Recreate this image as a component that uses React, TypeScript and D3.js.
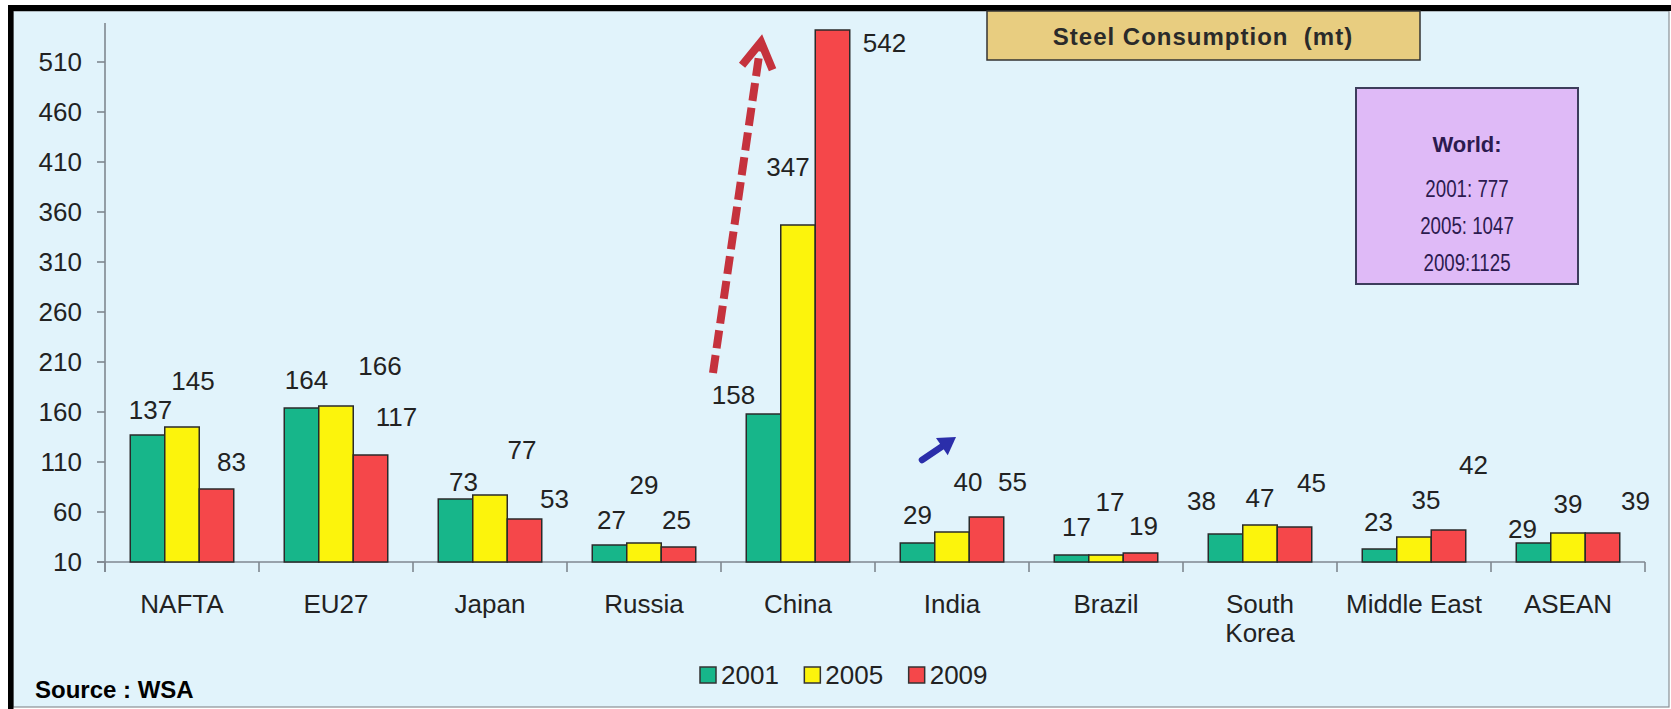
import * as d3 from 'd3'

const categories = ['NAFTA', 'EU27', 'Japan', 'Russia', 'China', 'India', 'Brazil', 'South Korea', 'Middle East', 'ASEAN']
const years = ['2001', '2005', '2009']
const values2001 = [137, 164, 73, 27, 158, 29, 17, 38, 23, 29]
const values2005 = [145, 166, 77, 29, 347, 40, 17, 47, 35, 39]
const values2009 = [83, 117, 53, 25, 542, 55, 19, 45, 42, 39]
const yTicks = [10, 60, 110, 160, 210, 260, 310, 360, 410, 460, 510]
const worldYears = ['2001', '2005', '2009']
const worldTotals = [777, 1047, 1125]

// hand placed label offsets (dx, dy from bar top centre), as in the original slide
const labelNudge: [number, number][][] = [
  [[3, -25], [11, -46], [15, -27]],
  [[5, -28], [44, -40], [26, -38]],
  [[8, -17], [32, -45], [30, -20]],
  [[2, -25], [0, -58], [-2, -27]],
  [[-30, -19], [-10, -58], [52, 13]],
  [[0, -28], [16, -50], [26, -35]],
  [[5, -28], [4, -53], [3, -27]],
  [[-24, -33], [0, -27], [17, -44]],
  [[-1, -27], [12, -37], [25, -65]],
  [[-11, -14], [0, -29], [33, -32]],
]

const font = "'Liberation Sans', Arial, sans-serif"

export default function App() {
  const W = 1671
  const H = 709
  const series = [values2001, values2005, values2009]

  const y = d3.scaleLinear().domain([10, 549]).range([562, 23])
  const xCat = d3.scaleBand<string>().domain(categories).range([105, 1645])
  const x0 = d3
    .scaleBand<string>()
    .domain(categories)
    .range([105, 1645])
    .paddingInner(0.328)
    .paddingOuter(0.164)
  const x1 = d3.scaleBand<string>().domain(years).range([0, x0.bandwidth()])
  const color = d3
    .scaleOrdinal<string, string>()
    .domain(years)
    .range(['#17b68a', '#fcf40c', '#f5474a'])
  const legendX = d3.scaleBand<string>().domain(years).range([700, 1013])

  // china arrow, anchored on the china band
  const cx = xCat('China') as number
  const tail: [number, number] = [cx - 8, y(199)]
  const head: [number, number] = [cx + 40, y(530)]
  const ang = Math.atan2(tail[1] - head[1], tail[0] - head[0])
  const arm = (a: number): [number, number] => [head[0] + 30 * Math.cos(ang + a), head[1] + 30 * Math.sin(ang + a)]
  const chevron = d3.line()([arm(0.54), head, arm(-0.54)])

  // india arrow
  const ix = xCat('India') as number
  const bTail: [number, number] = [ix + 47, y(112)]
  const bHead: [number, number] = [ix + 81, y(135)]
  const bAng = Math.atan2(bTail[1] - bHead[1], bTail[0] - bHead[0])
  const bPt = (a: number, r: number): [number, number] => [bHead[0] + r * Math.cos(bAng + a), bHead[1] + r * Math.sin(bAng + a)]
  const bShaftEnd = bPt(0, 12)

  return (
    <>
      <style>{`body{margin:0}`}</style>
      <svg width={W} height={H} style={{ display: 'block', fontFamily: font }}>
        <rect x={0} y={0} width={W} height={H} fill="#ffffff" />
        <rect x={13} y={11} width={1656} height={696} fill="#e1f3fb" stroke="#8a8f94" strokeWidth={1.2} />
        <rect x={8} y={5} width={5.5} height={H - 5} fill="#000" />
        <rect x={8} y={5} width={W - 8} height={6} fill="#000" />

        {/* y axis */}
        <line x1={105} x2={105} y1={23} y2={572} stroke="#7f8790" strokeWidth={1.6} />
        {yTicks.map(t => (
          <g key={t} transform={`translate(0,${y(t)})`}>
            <line x1={97} x2={105} stroke="#7f8790" strokeWidth={1.6} />
            <text x={82} dy="0.36em" textAnchor="end" fontSize={26} fill="#222">
              {t}
            </text>
          </g>
        ))}

        {/* x axis */}
        <line x1={97} x2={1645} y1={y(10)} y2={y(10)} stroke="#7f8790" strokeWidth={1.6} />
        {[...categories.map(c => xCat(c) as number), 1645].map((bx, i) => (
          <line key={i} x1={bx} x2={bx} y1={y(10)} y2={y(10) + 10} stroke="#7f8790" strokeWidth={1.6} />
        ))}
        {categories.map(c => {
          const lines = c === 'South Korea' ? ['South', 'Korea'] : [c]
          const lx = (xCat(c) as number) + xCat.bandwidth() / 2
          return (
            <text key={c} x={lx} y={613} textAnchor="middle" fontSize={26} fill="#222">
              {lines.map((l, j) => (
                <tspan key={j} x={lx} dy={j === 0 ? 0 : 29}>
                  {l}
                </tspan>
              ))}
            </text>
          )
        })}

        {/* bars */}
        {categories.map((c, i) => (
          <g key={c} transform={`translate(${x0(c)},0)`}>
            {years.map((yr, s) => {
              const v = series[s][i]
              return (
                <rect
                  key={yr}
                  x={x1(yr)}
                  y={y(v)}
                  width={x1.bandwidth()}
                  height={y(10) - y(v)}
                  fill={color(yr)}
                  stroke="#2a2a2a"
                  strokeWidth={1.5}
                />
              )
            })}
          </g>
        ))}

        {/* value labels */}
        {categories.map((c, i) =>
          years.map((yr, s) => {
            const v = series[s][i]
            const [dx, dy] = labelNudge[i][s]
            return (
              <text
                key={c + yr}
                x={(x0(c) as number) + (x1(yr) as number) + x1.bandwidth() / 2 + dx}
                y={y(v) + dy}
                dy="0.36em"
                textAnchor="middle"
                fontSize={26}
                fill="#222"
              >
                {v}
              </text>
            )
          })
        )}

        {/* growth arrows */}
        <line x1={tail[0]} y1={tail[1]} x2={head[0]} y2={head[1]} stroke="#c5323d" strokeWidth={8} strokeDasharray="18 7" />
        <path d={chevron ?? ''} fill="none" stroke="#c5323d" strokeWidth={8} strokeLinejoin="miter" />
        <line x1={bTail[0]} y1={bTail[1]} x2={bShaftEnd[0]} y2={bShaftEnd[1]} stroke="#2b2eaa" strokeWidth={6.5} strokeLinecap="round" />
        <polygon points={[bHead, bPt(0.55, 20), bPt(-0.55, 20)].map(p => p.join(',')).join(' ')} fill="#2b2eaa" />

        {/* title box */}
        <rect x={987} y={11} width={433} height={49} fill="#e8cd80" stroke="#333" strokeWidth={1.5} />
        <text x={1203} y={36} dy="0.36em" textAnchor="middle" fontSize={24} fontWeight="bold" fill="#2a2a2a" letterSpacing={1} style={{ whiteSpace: 'pre' }}>
          {'Steel Consumption  (mt)'}
        </text>

        {/* world box */}
        <rect x={1356} y={88} width={222} height={196} fill="#dfbaf7" stroke="#3d3d5c" strokeWidth={2} />
        <text x={1467} y={144} dy="0.36em" textAnchor="middle" fontSize={22} fontWeight="bold" fill="#2c1a4f">
          World:
        </text>
        {worldYears.map((yr, k) => (
          <text
            key={yr}
            transform={`translate(1467,${188 + k * 37}) scale(0.78,1)`}
            dy="0.36em"
            textAnchor="middle"
            fontSize={24}
            fill="#2c1a4f"
          >
            {yr === '2009' ? `${yr}:${worldTotals[k]}` : `${yr}: ${worldTotals[k]}`}
          </text>
        ))}

        {/* legend */}
        {years.map(yr => (
          <g key={yr} transform={`translate(${legendX(yr)},675)`}>
            <rect x={0} y={-8} width={16} height={16} fill={color(yr)} stroke="#333" strokeWidth={1.5} />
            <text x={21} dy="0.36em" fontSize={26} fill="#222">
              {yr}
            </text>
          </g>
        ))}

        <text x={35} y={689} dy="0.36em" fontSize={24} fontWeight="bold" fill="#000">
          Source : WSA
        </text>
      </svg>
    </>
  )
}
